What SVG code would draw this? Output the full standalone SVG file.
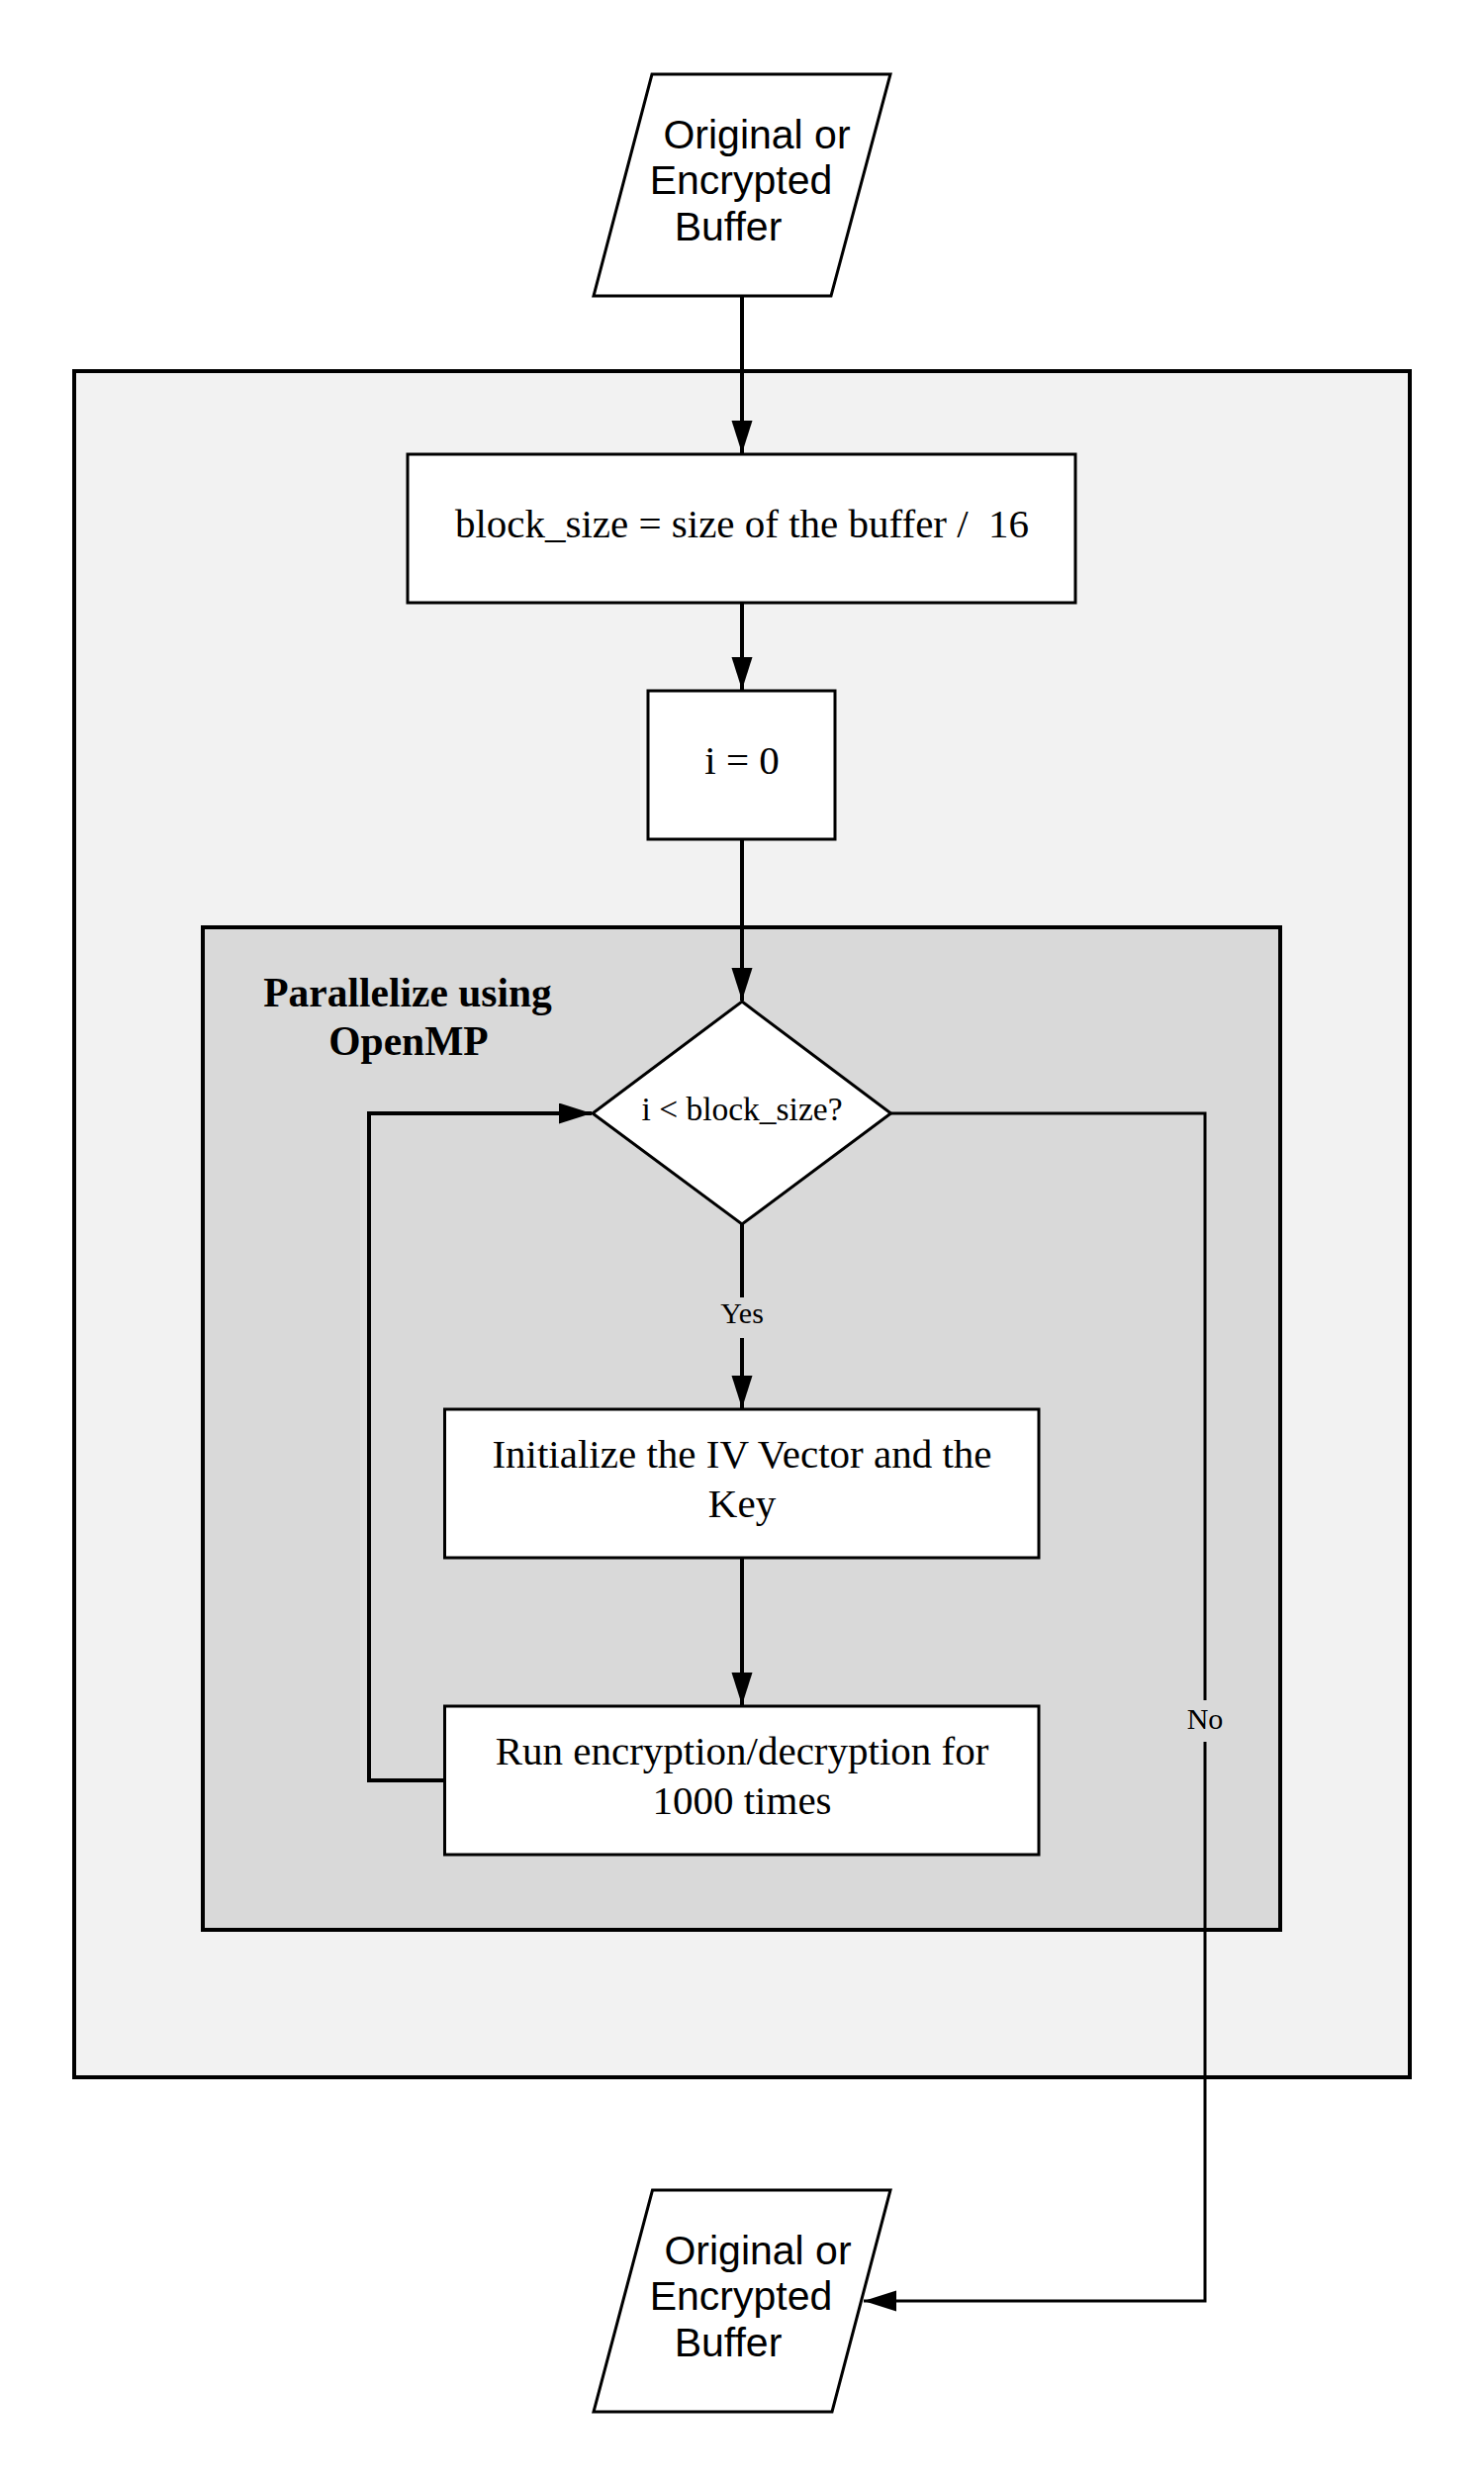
<svg xmlns="http://www.w3.org/2000/svg" width="1500" height="2513" viewBox="0 0 1500 2513">
<style>
.sans{font-family:"Liberation Sans",Arial,sans-serif;font-size:41px;fill:#000}
.serif{font-family:"Liberation Serif","Times New Roman",serif;fill:#000}
.node{fill:#fff;stroke:#000;stroke-width:3}
.cont{stroke:#000;stroke-width:4}
.conn{fill:none;stroke:#000;stroke-width:4}
.thin{stroke-width:3}
.lbl{font-family:"Liberation Serif","Times New Roman",serif;font-size:30px;fill:#000;text-anchor:middle}
</style>
<defs>
<marker id="arr" markerUnits="userSpaceOnUse" markerWidth="34" markerHeight="22" refX="33" refY="10.5" orient="auto">
<path d="M0,0 L33,10.5 L0,21 z" fill="#000"/>
</marker>
</defs>
<rect width="1500" height="2513" fill="#fff"/>
<g id="outer-container">
<rect class="cont" x="75" y="375" width="1350" height="1724" fill="#f2f2f2"/>
</g>
<g id="openmp-container">
<rect class="cont" x="205" y="937" width="1089" height="1013" fill="#d9d9d9"/>
<text class="serif" font-size="41.5" font-weight="bold" text-anchor="middle" x="412" y="1017">Parallelize using</text>
<text class="serif" font-size="41.5" font-weight="bold" text-anchor="middle" x="413" y="1066">OpenMP</text>
</g>
<g id="input-buffer">
<polygon class="node" points="659,75 900,75 840,299 600,299"/>
<text class="sans" text-anchor="middle" x="765" y="150">Original or</text>
<text class="sans" text-anchor="middle" x="749" y="196">Encrypted</text>
<text class="sans" text-anchor="middle" x="736" y="243">Buffer</text>
</g>
<g id="block-size">
<rect class="node" x="412" y="459" width="675" height="150"/>
<text class="serif" font-size="41" text-anchor="middle" x="750" y="543" xml:space="preserve">block_size = size of the buffer /  16</text>
</g>
<g id="i-init">
<rect class="node" x="655" y="698" width="189" height="150"/>
<text class="serif" font-size="41" text-anchor="middle" x="750" y="782">i = 0</text>
</g>
<g id="decision">
<polygon class="node" points="750,1012 900.5,1125 750,1237 599,1125"/>
<text class="serif" font-size="33.5" text-anchor="middle" x="750" y="1132">i &lt; block_size?</text>
</g>
<g id="init-iv">
<rect class="node" x="449.5" y="1424" width="600.5" height="150"/>
<text class="serif" font-size="41" text-anchor="middle" x="750" y="1483">Initialize the IV Vector and the</text>
<text class="serif" font-size="41" text-anchor="middle" x="750" y="1533">Key</text>
</g>
<g id="run">
<rect class="node" x="449.5" y="1724" width="600.5" height="150"/>
<text class="serif" font-size="41" text-anchor="middle" x="750" y="1783">Run encryption/decryption for</text>
<text class="serif" font-size="41" text-anchor="middle" x="750" y="1833">1000 times</text>
</g>
<g id="output-buffer">
<polygon class="node" points="659.5,2213 900,2213 841,2437 600,2437"/>
<text class="sans" text-anchor="middle" x="766" y="2288">Original or</text>
<text class="sans" text-anchor="middle" x="749" y="2334">Encrypted</text>
<text class="sans" text-anchor="middle" x="736" y="2381">Buffer</text>
</g>
<g id="connectors">
<line class="conn" x1="750" y1="300" x2="750" y2="458" marker-end="url(#arr)"/>
<line class="conn" x1="750" y1="609" x2="750" y2="697" marker-end="url(#arr)"/>
<line class="conn" x1="750" y1="848" x2="750" y2="1011" marker-end="url(#arr)"/>
<line class="conn" x1="750" y1="1237" x2="750" y2="1423" marker-end="url(#arr)"/>
<rect x="728" y="1311" width="44" height="41" fill="#d9d9d9"/>
<text class="lbl" x="750" y="1337">Yes</text>
<line class="conn" x1="750" y1="1574" x2="750" y2="1723" marker-end="url(#arr)"/>
<path class="conn" d="M449.5,1799 H373 V1125 H598" marker-end="url(#arr)"/>
<path class="conn thin" d="M900.5,1125 H1218 V2325 H873" marker-end="url(#arr)"/>
<rect x="1198" y="1718" width="40" height="42" fill="#d9d9d9"/>
<text class="lbl" x="1218" y="1747">No</text>
</g>
</svg>
